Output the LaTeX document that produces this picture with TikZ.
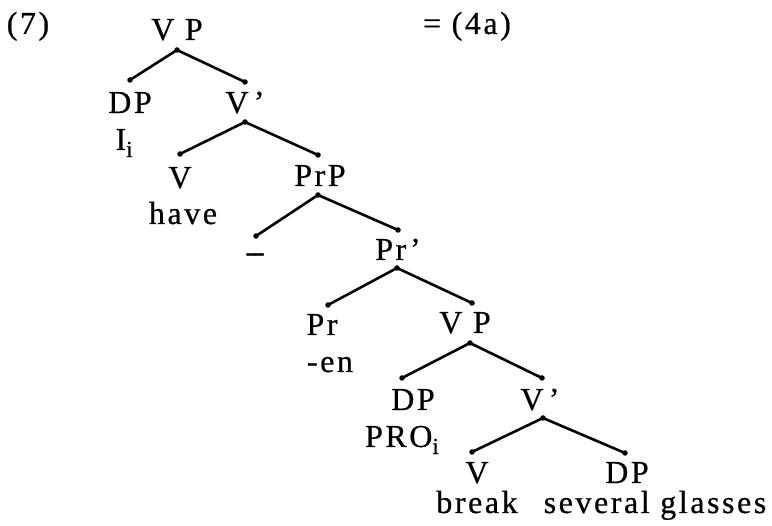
\documentclass[tikz,border=0pt]{standalone}
\usepackage{fontspec}
\setmainfont[LetterSpace=8,FakeBold=0.6]{Liberation Serif}
\newcommand{\subi}{\raisebox{-0.22em}{\fontsize{23}{23}\selectfont i}}
\begin{document}
\begin{tikzpicture}[x=1pt,y=-1pt,
  lbl/.style={anchor=base,inner sep=0pt,font=\fontsize{32}{38}\selectfont},
  br/.style={line width=2.6pt},
  dt/.style={fill=black,circle,inner sep=0pt,minimum size=5.5pt}]
\useasboundingbox (0,0) rectangle (772,526);
% labels
\node[lbl] (ex) at (28,34) {(7)};
\node[lbl] (eq) at (467,34) {= (4a)};
\node[lbl] (vp1) at (177,40) {V P};
\node[lbl] (dp1) at (130,113) {DP};
\node[lbl] (i1) at (124,150) {I\subi};
\node[lbl] (vb1) at (245,113) {V\,\symbol{39}};
\node[lbl] (v1) at (180,188) {V};
\node[lbl] (have) at (183,224) {have};
\node[lbl] (prp) at (320,186) {PrP};
\node[lbl] (dash) at (255,262) {-\kern-2pt-};
\node[lbl] (prb) at (398,260) {Pr\symbol{39}};
\node[lbl] (pr) at (322,335) {Pr};
\node[lbl] (en) at (330,372) {-en};
\node[lbl] (vp2) at (465,333) {V P};
\node[lbl] (dp2) at (413,410) {DP};
\node[lbl] (pro) at (402,447) {PRO\subi};
\node[lbl] (vb2) at (540,410) {V\,\symbol{39}};
\node[lbl] (v2) at (477,483) {V};
\node[lbl] (dp3) at (627,483) {DP};
\node[lbl] (brk) at (477,513) {break};
\node[lbl] (sg) at (655,513) {several glasses};
% dots
\node[dt] (a0) at (177,50) {};
\node[dt] (a1) at (130,80) {};
\node[dt] (a2) at (245,82) {};
\node[dt] (b0) at (245,122) {};
\node[dt] (b1) at (180,154) {};
\node[dt] (b2) at (318,155) {};
\node[dt] (c0) at (318,195) {};
\node[dt] (c1) at (256,236) {};
\node[dt] (c2) at (398,230) {};
\node[dt] (d0) at (397,268) {};
\node[dt] (d1) at (328,305) {};
\node[dt] (d2) at (472,303) {};
\node[dt] (e0) at (470,343) {};
\node[dt] (e1) at (402,378) {};
\node[dt] (e2) at (542,378) {};
\node[dt] (f0) at (543,418) {};
\node[dt] (f1) at (472,452) {};
\node[dt] (f2) at (625,453) {};
% branches
\foreach \p/\l/\r in {a0/a1/a2,b0/b1/b2,c0/c1/c2,d0/d1/d2,e0/e1/e2,f0/f1/f2}{
  \draw[br] (\p.center) -- (\l.center);
  \draw[br] (\p.center) -- (\r.center);
}
\end{tikzpicture}
\end{document}
